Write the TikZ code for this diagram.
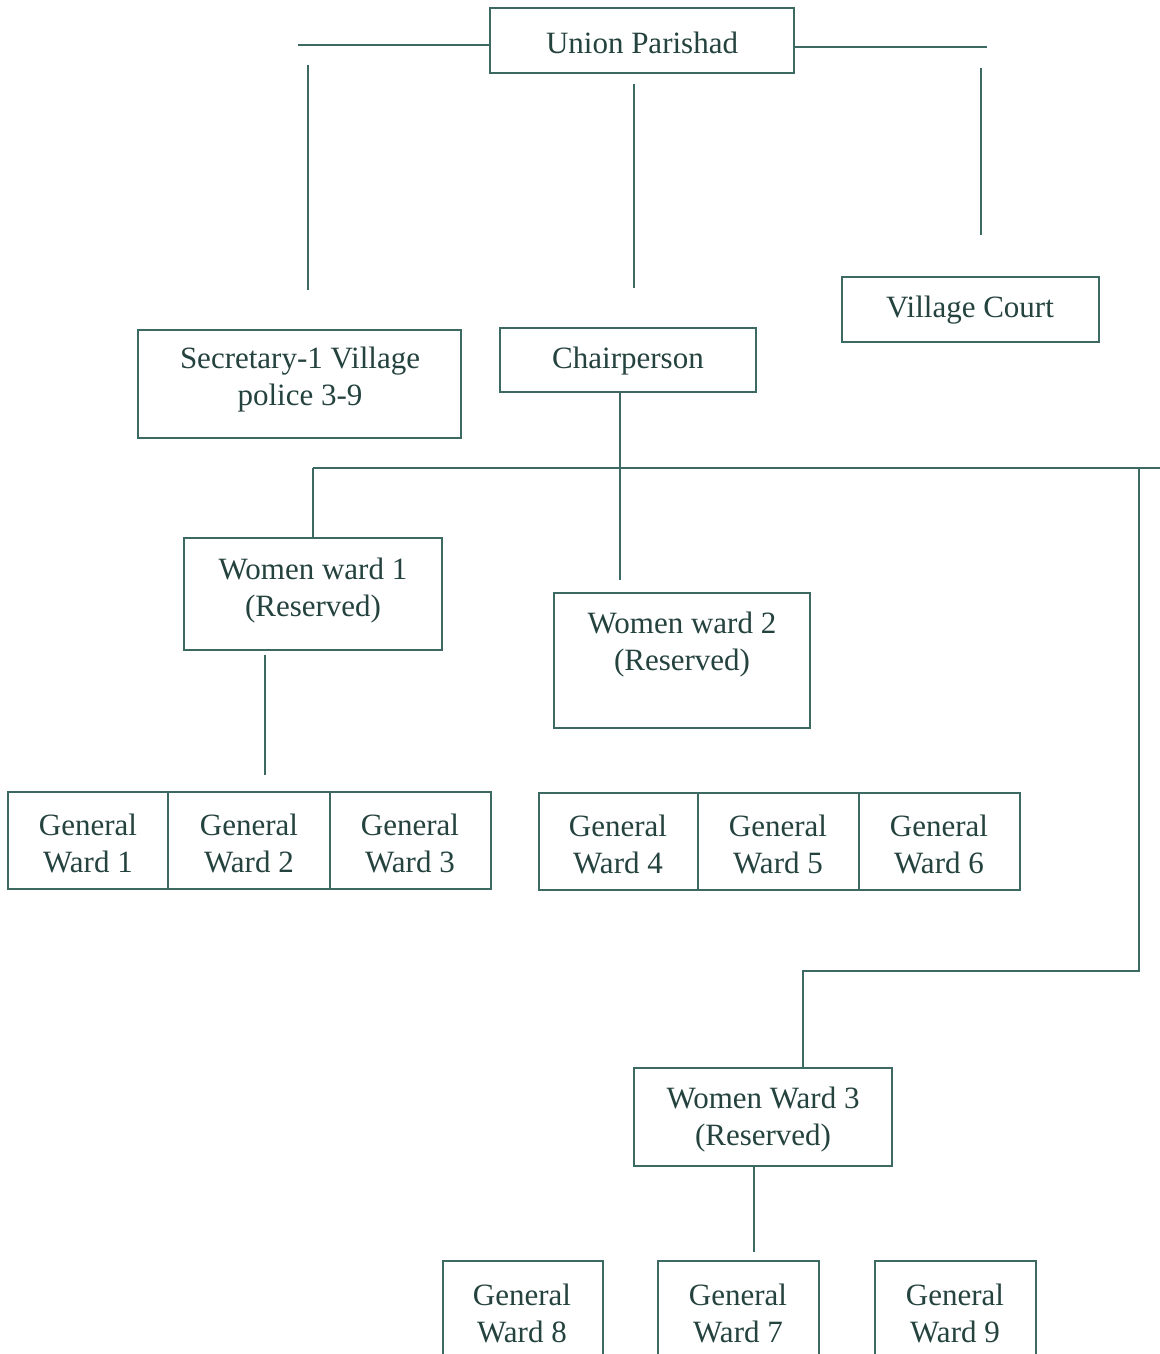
\documentclass[tikz,border=0pt]{standalone}
\usepackage{fontspec}
\setmainfont{Liberation Serif}
\definecolor{ln}{HTML}{3C6A63}
\definecolor{tx}{HTML}{24423E}
\begin{document}
\begin{tikzpicture}[x=0.5pt,y=-0.5pt,
  box/.style={draw=ln, line width=0.75pt, inner sep=0pt},
  txt/.style={text=tx, font=\fontsize{15.5}{18.5}\selectfont, align=center, inner sep=0pt, yshift=-1.5pt},
  conn/.style={draw=ln, line width=0.75pt}]
\clip (0,0) rectangle (1160,1354);
\fill[white] (0,0) rectangle (1160,1354);
% boxes
\node[box, minimum width=152pt, minimum height=32.5pt] (up) at (642,40.5) {};
\node[box, minimum width=161.5pt, minimum height=54pt] (sec) at (299.5,384) {};
\node[box, minimum width=128pt, minimum height=32pt] (chair) at (628,360) {};
\node[box, minimum width=128.5pt, minimum height=32.5pt] (vc) at (970.5,309.5) {};
\node[box, minimum width=129pt, minimum height=56pt] (ww1) at (313,594) {};
\node[box, minimum width=128pt, minimum height=67.5pt] (ww2) at (682,660.5) {};
\node[box, minimum width=80pt, minimum height=48.5pt] (g1) at (88,840.5) {};
\node[box, minimum width=81pt, minimum height=48.5pt] (g2) at (249,840.5) {};
\node[box, minimum width=80.5pt, minimum height=48.5pt] (g3) at (410.5,840.5) {};
\node[box, minimum width=79.5pt, minimum height=48.5pt] (g4) at (618.5,841.5) {};
\node[box, minimum width=80.5pt, minimum height=48.5pt] (g5) at (778.5,841.5) {};
\node[box, minimum width=80.5pt, minimum height=48.5pt] (g6) at (939.5,841.5) {};
\node[box, minimum width=129pt, minimum height=49pt] (ww3) at (763,1117) {};
\node[box, minimum width=80pt, minimum height=49.5pt] (g8) at (523,1310.5) {};
\node[box, minimum width=80.5pt, minimum height=49.5pt] (g7) at (738.5,1310.5) {};
\node[box, minimum width=80.5pt, minimum height=49.5pt] (g9) at (955.5,1310.5) {};
% texts
\node[txt] (up-t) at (642,40) {Union Parishad};
\node[txt] (sec-t) at (300,377) {Secretary-1 Village\\police 3-9};
\node[txt] (chair-t) at (628,358) {Chairperson};
\node[txt] (vc-t) at (970,307) {Village Court};
\node[txt] (ww1-t) at (313,588) {Women ward 1\\(Reserved)};
\node[txt] (ww2-t) at (682,642) {Women ward 2\\(Reserved)};
\node[txt] (g1-t) at (88,840) {General\\Ward 1};
\node[txt] (g2-t) at (249,840) {General\\Ward 2};
\node[txt] (g3-t) at (410,840) {General\\Ward 3};
\node[txt] (g4-t) at (618,841) {General\\Ward 4};
\node[txt] (g5-t) at (778,841) {General\\Ward 5};
\node[txt] (g6-t) at (939,841) {General\\Ward 6};
\node[txt] (ww3-t) at (763,1117) {Women Ward 3\\(Reserved)};
\node[txt] (g8-t) at (522,1310) {General\\Ward 8};
\node[txt] (g7-t) at (738,1310) {General\\Ward 7};
\node[txt] (g9-t) at (955,1310) {General\\Ward 9};
% connectors
\coordinate (l1) at (298,45);
\draw[conn] (l1) -- (l1 -| up.west);
\coordinate (r1) at (987,47);
\draw[conn] (r1) -- (r1 -| up.east);
\coordinate (lv1) at (308,65); \coordinate (lv2) at (308,290);
\draw[conn] (lv1) -- (lv2);
\coordinate (rv1) at (981,68); \coordinate (rv2) at (981,235);
\draw[conn] (rv1) -- (rv2);
\coordinate (cv1) at (634,84); \coordinate (cv2) at (634,288);
\draw[conn] (cv1) -- (cv2);
\coordinate (cd) at (620,580);
\draw[conn] (cd |- chair.south) -- (cd);
\coordinate (hl) at (313,468); \coordinate (hr) at (1160,468);
\draw[conn] (hl) -- (hr);
\draw[conn] (hl) -- (ww1.north);
\coordinate (rv) at (1139,468); \coordinate (rb) at (1139,971); \coordinate (lb) at (803,971);
\draw[conn] (rv) -- (rb) -- (lb) -- (lb |- ww3.north);
\coordinate (w1a) at (265,655); \coordinate (w1b) at (265,775);
\draw[conn] (w1a) -- (w1b);
\coordinate (w3d) at (754,1252);
\draw[conn] (w3d |- ww3.south) -- (w3d);
\end{tikzpicture}
\end{document}
